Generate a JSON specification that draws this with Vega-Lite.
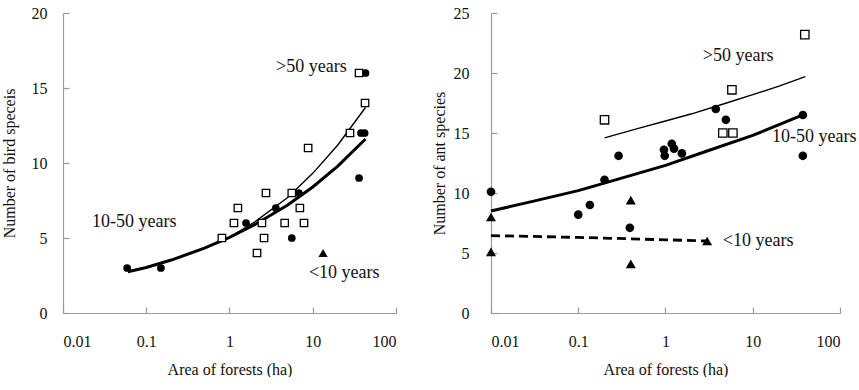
{
  "$schema": "https://vega.github.io/schema/vega-lite/v6.json",
  "background": "white",
  "padding": {"left": 1, "top": 5, "right": 0, "bottom": 0},
  "spacing": 34,
  "config": {
    "view": {"stroke": null},
    "axis": {
      "grid": false,
      "domainColor": "#9a9a9a",
      "tickColor": "#9a9a9a",
      "domainWidth": 1.2,
      "tickWidth": 1.2,
      "labelFontSize": 16,
      "titleFontSize": 16,
      "labelColor": "#111",
      "titleColor": "#111",
      "titleFontWeight": "normal"
    }
  },
  "datasets": {
    "birdPts": [
      {"area": 36, "n": 16, "grp": ">50 years"},
      {"area": 43, "n": 16, "grp": "10-50 years"},
      {"area": 42.5, "n": 14, "grp": ">50 years"},
      {"area": 28, "n": 12, "grp": ">50 years"},
      {"area": 38, "n": 12, "grp": "10-50 years"},
      {"area": 42, "n": 12, "grp": "10-50 years"},
      {"area": 8.8, "n": 11, "grp": ">50 years"},
      {"area": 36, "n": 9, "grp": "10-50 years"},
      {"area": 2.74, "n": 8, "grp": ">50 years"},
      {"area": 5.6, "n": 8, "grp": ">50 years"},
      {"area": 6.8, "n": 8, "grp": "10-50 years"},
      {"area": 1.26, "n": 7, "grp": ">50 years"},
      {"area": 3.6, "n": 7, "grp": "10-50 years"},
      {"area": 7.0, "n": 7, "grp": ">50 years"},
      {"area": 1.13, "n": 6, "grp": ">50 years"},
      {"area": 1.58, "n": 6, "grp": "10-50 years"},
      {"area": 2.45, "n": 6, "grp": ">50 years"},
      {"area": 4.6, "n": 6, "grp": ">50 years"},
      {"area": 7.85, "n": 6, "grp": ">50 years"},
      {"area": 0.81, "n": 5, "grp": ">50 years"},
      {"area": 2.6, "n": 5, "grp": ">50 years"},
      {"area": 5.6, "n": 5, "grp": "10-50 years"},
      {"area": 2.14, "n": 4, "grp": ">50 years"},
      {"area": 13.3, "n": 4, "grp": "<10 years"},
      {"area": 0.059, "n": 3, "grp": "10-50 years"},
      {"area": 0.15, "n": 3, "grp": "10-50 years"}
    ],
    "birdFit": [
      {"area": 0.06, "n": 2.75, "grp": "10-50 years"},
      {"area": 0.1, "n": 3.03, "grp": "10-50 years"},
      {"area": 0.2, "n": 3.53, "grp": "10-50 years"},
      {"area": 0.5, "n": 4.32, "grp": "10-50 years"},
      {"area": 1, "n": 5.04, "grp": "10-50 years"},
      {"area": 2, "n": 5.88, "grp": "10-50 years"},
      {"area": 5, "n": 7.2, "grp": "10-50 years"},
      {"area": 10, "n": 8.4, "grp": "10-50 years"},
      {"area": 20, "n": 9.79, "grp": "10-50 years"},
      {"area": 43, "n": 11.6, "grp": "10-50 years"},
      {"area": 0.8, "n": 4.75, "grp": ">50 years"},
      {"area": 1, "n": 5.04, "grp": ">50 years"},
      {"area": 2, "n": 6.06, "grp": ">50 years"},
      {"area": 5, "n": 7.7, "grp": ">50 years"},
      {"area": 10, "n": 9.31, "grp": ">50 years"},
      {"area": 20, "n": 11.2, "grp": ">50 years"},
      {"area": 43, "n": 13.7, "grp": ">50 years"}
    ],
    "birdLabels": [
      {"area": 3.62, "n": 16.4, "text": ">50 years"},
      {"area": 0.0223, "n": 6.07, "text": "10-50 years"},
      {"area": 9.0, "n": 2.67, "text": "<10 years"}
    ],
    "antPts": [
      {"area": 39.5, "n": 23.2, "grp": ">50 years"},
      {"area": 5.77, "n": 18.6, "grp": ">50 years"},
      {"area": 0.2, "n": 16.1, "grp": ">50 years"},
      {"area": 4.54, "n": 15, "grp": ">50 years"},
      {"area": 5.92, "n": 15, "grp": ">50 years"},
      {"area": 3.77, "n": 17, "grp": "10-50 years"},
      {"area": 4.92, "n": 16.1, "grp": "10-50 years"},
      {"area": 37.5, "n": 16.5, "grp": "10-50 years"},
      {"area": 37.5, "n": 13.1, "grp": "10-50 years"},
      {"area": 0.29, "n": 13.1, "grp": "10-50 years"},
      {"area": 0.96, "n": 13.6, "grp": "10-50 years"},
      {"area": 1.18, "n": 14.1, "grp": "10-50 years"},
      {"area": 1.25, "n": 13.7, "grp": "10-50 years"},
      {"area": 0.98, "n": 13.1, "grp": "10-50 years"},
      {"area": 1.54, "n": 13.3, "grp": "10-50 years"},
      {"area": 0.2, "n": 11.1, "grp": "10-50 years"},
      {"area": 0.01, "n": 10.1, "grp": "10-50 years"},
      {"area": 0.1, "n": 8.2, "grp": "10-50 years"},
      {"area": 0.136, "n": 9.0, "grp": "10-50 years"},
      {"area": 0.39, "n": 7.1, "grp": "10-50 years"},
      {"area": 0.4, "n": 9.4, "grp": "<10 years"},
      {"area": 0.01, "n": 8.0, "grp": "<10 years"},
      {"area": 3.0, "n": 6.0, "grp": "<10 years"},
      {"area": 0.01, "n": 5.1, "grp": "<10 years"},
      {"area": 0.4, "n": 4.1, "grp": "<10 years"}
    ],
    "antFit": [
      {"area": 0.2, "n": 14.6, "grp": ">50 years"},
      {"area": 0.5, "n": 15.4, "grp": ">50 years"},
      {"area": 1, "n": 16.0, "grp": ">50 years"},
      {"area": 2, "n": 16.6, "grp": ">50 years"},
      {"area": 5, "n": 17.5, "grp": ">50 years"},
      {"area": 10, "n": 18.2, "grp": ">50 years"},
      {"area": 20, "n": 18.9, "grp": ">50 years"},
      {"area": 40, "n": 19.7, "grp": ">50 years"},
      {"area": 0.01, "n": 8.5, "grp": "10-50 years"},
      {"area": 0.03, "n": 9.3, "grp": "10-50 years"},
      {"area": 0.1, "n": 10.2, "grp": "10-50 years"},
      {"area": 0.3, "n": 11.2, "grp": "10-50 years"},
      {"area": 1, "n": 12.3, "grp": "10-50 years"},
      {"area": 3, "n": 13.5, "grp": "10-50 years"},
      {"area": 10, "n": 14.8, "grp": "10-50 years"},
      {"area": 40, "n": 16.6, "grp": "10-50 years"},
      {"area": 0.01, "n": 6.45, "grp": "<10 years"},
      {"area": 0.1, "n": 6.3, "grp": "<10 years"},
      {"area": 1, "n": 6.1, "grp": "<10 years"},
      {"area": 3, "n": 6.0, "grp": "<10 years"}
    ],
    "antLabels": [
      {"area": 2.68, "n": 21.4, "text": ">50 years"},
      {"area": 16.6, "n": 14.7, "text": "10-50 years"},
      {"area": 4.54, "n": 6.0, "text": "<10 years"}
    ]
  },
  "hconcat": [
    {
      "width": 333,
      "height": 300,
      "layer": [
        {
          "data": {"name": "birdFit"},
          "transform": [{"filter": "datum.grp === '10-50 years'"}],
          "mark": {"type": "line", "color": "black", "strokeWidth": 3},
          "encoding": {
            "x": {"field": "area", "type": "quantitative", "scale": {"type": "log", "domain": [0.01, 100], "nice": false},
                  "axis": {"values": [0.01, 0.1, 1, 10, 100], "format": "~g", "title": "Area of forests (ha)", "labelFont": "Liberation Serif", "titleFont": "Liberation Serif", "tickSize": -6, "labelPadding": 26, "titlePadding": 12}},
            "y": {"field": "n", "type": "quantitative", "scale": {"domain": [0, 20], "nice": false},
                  "axis": {"values": [0, 5, 10, 15, 20], "title": "Number of bird speceis", "labelFont": "Liberation Serif", "titleFont": "Liberation Serif", "tickSize": -6, "labelPadding": 22, "titlePadding": 14}}
          }
        },
        {
          "data": {"name": "birdFit"},
          "transform": [{"filter": "datum.grp === '>50 years'"}],
          "mark": {"type": "line", "color": "black", "strokeWidth": 1.4},
          "encoding": {
            "x": {"field": "area", "type": "quantitative"},
            "y": {"field": "n", "type": "quantitative"}
          }
        },
        {
          "data": {"name": "birdPts"},
          "transform": [{"filter": "datum.grp === '10-50 years'"}],
          "mark": {"type": "point", "shape": "circle", "filled": true, "color": "black", "opacity": 1, "size": 60},
          "encoding": {
            "x": {"field": "area", "type": "quantitative"},
            "y": {"field": "n", "type": "quantitative"}
          }
        },
        {
          "data": {"name": "birdPts"},
          "transform": [{"filter": "datum.grp === '<10 years'"}],
          "mark": {"type": "point", "shape": "triangle-up", "filled": true, "color": "black", "opacity": 1, "size": 85},
          "encoding": {
            "x": {"field": "area", "type": "quantitative"},
            "y": {"field": "n", "type": "quantitative"}
          }
        },
        {
          "data": {"name": "birdPts"},
          "transform": [{"filter": "datum.grp === '>50 years'"}],
          "mark": {"type": "point", "shape": "square", "filled": false, "color": "black", "fill": "white", "fillOpacity": 1, "strokeWidth": 1.3, "size": 55, "opacity": 1},
          "encoding": {
            "x": {"field": "area", "type": "quantitative"},
            "y": {"field": "n", "type": "quantitative"}
          }
        },
        {
          "data": {"name": "birdLabels"},
          "mark": {"type": "text", "align": "left", "baseline": "middle", "fontSize": 18, "font": "Liberation Serif", "color": "#111"},
          "encoding": {
            "x": {"field": "area", "type": "quantitative"},
            "y": {"field": "n", "type": "quantitative"},
            "text": {"field": "text"}
          }
        }
      ]
    },
    {
      "width": 349,
      "height": 300,
      "layer": [
        {
          "data": {"name": "antFit"},
          "transform": [{"filter": "datum.grp === '10-50 years'"}],
          "mark": {"type": "line", "color": "black", "strokeWidth": 3},
          "encoding": {
            "x": {"field": "area", "type": "quantitative", "scale": {"type": "log", "domain": [0.01, 100], "nice": false},
                  "axis": {"values": [0.01, 0.1, 1, 10, 100], "format": "~g", "title": "Area of forests (ha)", "labelFont": "Liberation Serif", "titleFont": "Liberation Serif", "tickSize": -6, "labelPadding": 26, "titlePadding": 12}},
            "y": {"field": "n", "type": "quantitative", "scale": {"domain": [0, 25], "nice": false},
                  "axis": {"values": [0, 5, 10, 15, 20, 25], "title": "Number of ant species", "labelFont": "Liberation Serif", "titleFont": "Liberation Serif", "tickSize": -6, "labelPadding": 28, "titlePadding": 6}}
          }
        },
        {
          "data": {"name": "antFit"},
          "transform": [{"filter": "datum.grp === '>50 years'"}],
          "mark": {"type": "line", "color": "black", "strokeWidth": 1.4},
          "encoding": {
            "x": {"field": "area", "type": "quantitative"},
            "y": {"field": "n", "type": "quantitative"}
          }
        },
        {
          "data": {"name": "antFit"},
          "transform": [{"filter": "datum.grp === '<10 years'"}],
          "mark": {"type": "line", "color": "black", "strokeWidth": 2.8, "strokeDash": [9, 5]},
          "encoding": {
            "x": {"field": "area", "type": "quantitative"},
            "y": {"field": "n", "type": "quantitative"}
          }
        },
        {
          "data": {"name": "antPts"},
          "transform": [{"filter": "datum.grp === '10-50 years'"}],
          "mark": {"type": "point", "shape": "circle", "filled": true, "color": "black", "opacity": 1, "size": 75, "clip": false},
          "encoding": {
            "x": {"field": "area", "type": "quantitative"},
            "y": {"field": "n", "type": "quantitative"}
          }
        },
        {
          "data": {"name": "antPts"},
          "transform": [{"filter": "datum.grp === '<10 years'"}],
          "mark": {"type": "point", "shape": "triangle-up", "filled": true, "color": "black", "opacity": 1, "size": 100, "clip": false},
          "encoding": {
            "x": {"field": "area", "type": "quantitative"},
            "y": {"field": "n", "type": "quantitative"}
          }
        },
        {
          "data": {"name": "antPts"},
          "transform": [{"filter": "datum.grp === '>50 years'"}],
          "mark": {"type": "point", "shape": "square", "filled": false, "color": "black", "fill": "white", "fillOpacity": 1, "strokeWidth": 1.3, "size": 70, "opacity": 1},
          "encoding": {
            "x": {"field": "area", "type": "quantitative"},
            "y": {"field": "n", "type": "quantitative"}
          }
        },
        {
          "data": {"name": "antLabels"},
          "mark": {"type": "text", "align": "left", "baseline": "middle", "fontSize": 18, "font": "Liberation Serif", "color": "#111"},
          "encoding": {
            "x": {"field": "area", "type": "quantitative"},
            "y": {"field": "n", "type": "quantitative"},
            "text": {"field": "text"}
          }
        }
      ]
    }
  ]
}
